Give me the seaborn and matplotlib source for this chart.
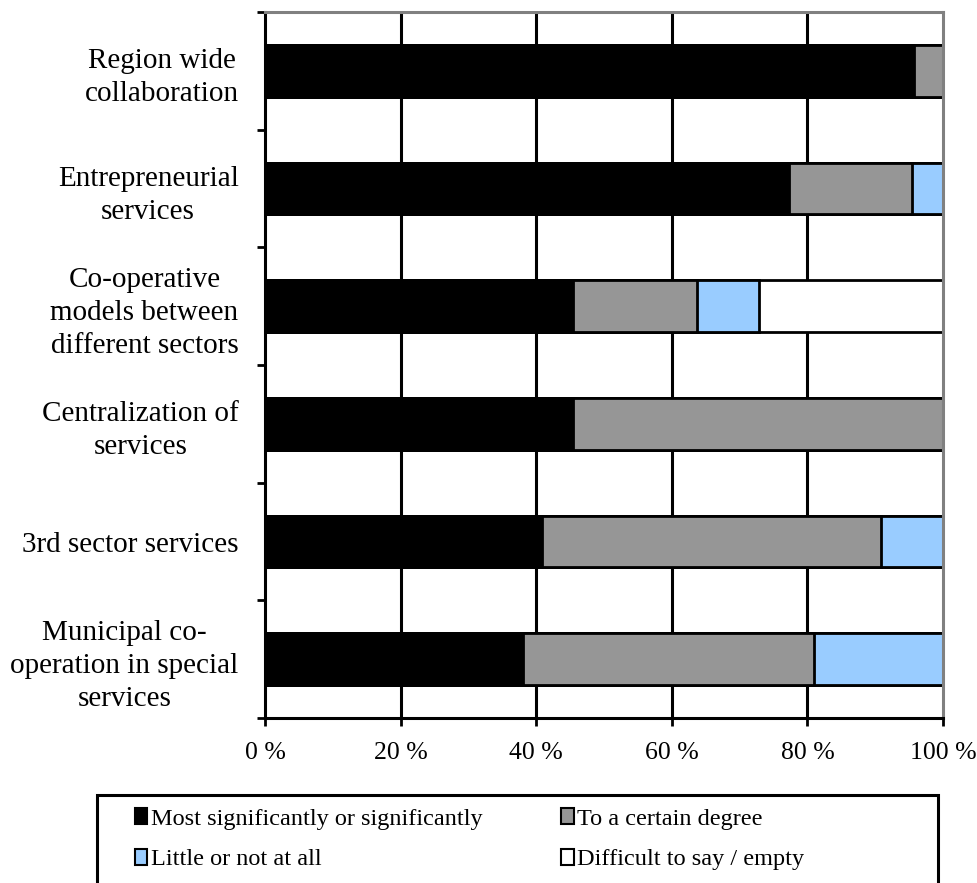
import numpy as np
import pandas as pd
import seaborn as sns
import matplotlib.pyplot as plt
from matplotlib.patches import Patch, Rectangle
from matplotlib.ticker import FixedLocator

categories = [
    "Region wide\ncollaboration",
    "Entrepreneurial\nservices",
    "Co-operative\nmodels between\ndifferent sectors",
    "Centralization of\nservices",
    "3rd sector services",
    "Municipal co-\noperation in special\nservices",
]
most = [95.7, 77.3, 45.5, 45.5, 40.9, 38.1]
certain = [4.3, 18.2, 18.2, 54.5, 50.0, 42.9]
little = [0.0, 4.5, 9.1, 0.0, 9.1, 19.0]
difficult = [0.0, 0.0, 27.3, 0.0, 0.0, 0.0]

series_names = ["Most significantly or significantly", "To a certain degree",
                "Little or not at all", "Difficult to say / empty"]
colors = ["#000000", "#969696", "#99ccff", "#ffffff"]
xtick_vals = [0, 20, 40, 60, 80, 100]
xtick_labels = ["0 %", "20 %", "40 %", "60 %", "80 %", "100 %"]

sns.set_style("white")
plt.rcParams['font.family'] = ['Liberation Serif', 'DejaVu Serif']
plt.rcParams['text.color'] = 'black'
plt.rcParams['xtick.color'] = 'black'
plt.rcParams['ytick.color'] = 'black'

df = pd.DataFrame({"category": categories, "most": most, "certain": certain,
                   "little": little, "difficult": difficult})
# cumulative totals for stacking
cols = ["most", "certain", "little", "difficult"]
cum = df[cols].cumsum(axis=1)

fig = plt.figure(figsize=(9.77, 8.83), dpi=100)
W, H = 977, 883
ax = fig.add_axes([265 / W, 1 - 718 / H, (943 - 265) / W, (718 - 12) / H])

# draw from the widest cumulative down so the stacks show
for col, c in zip(cols[::-1], colors[::-1]):
    sns.barplot(x=cum[col], y=df["category"], color=c, orient="h", width=0.44,
                edgecolor="black", linewidth=2, saturation=1, ax=ax)

ax.set_xlim(0, 100)
ax.set_ylim(5.5, -0.5)
ax.set_xlabel("")
ax.set_ylabel("")
ax.set_xticks(xtick_vals)
ax.set_xticklabels(xtick_labels, fontsize=18.5)
ax.tick_params(axis="x", length=6, width=2, pad=11, direction="out", bottom=True)
ax.tick_params(axis="y", which="major", length=0, pad=19, labelsize=21)
for t in ax.get_yticklabels():
    t.set_multialignment("center")
    t.set_linespacing(1.36)
ax.yaxis.set_minor_locator(FixedLocator(np.arange(-0.5, 6, 1)))
ax.tick_params(axis="y", which="minor", length=6, width=2, direction="out", left=True)

for v in xtick_vals[1:-1]:
    ax.axvline(v, color="black", linewidth=2.2, zorder=0)

for side in ["left", "bottom"]:
    ax.spines[side].set_color("black")
    ax.spines[side].set_linewidth(2.2)
for side in ["top", "right"]:
    ax.spines[side].set_color("#808080")
    ax.spines[side].set_linewidth(2.2)

# legend frame runs off the bottom edge in the original
fig.patches.append(Rectangle((97 / W, -0.02), (938 - 97) / W, 0.02 + 1 - 795 / H,
                             transform=fig.transFigure, fill=False,
                             edgecolor="black", linewidth=2.2))

handles = [Patch(facecolor=c, edgecolor="black", linewidth=1.5) for c in colors]
order = [0, 2, 1, 3]  # legend fills column-wise
leg = fig.legend([handles[i] for i in order], [series_names[i] for i in order],
                 loc="upper left", ncol=2, bbox_to_anchor=(135 / W, 1 - 808 / H),
                 fontsize=17.5, frameon=False, borderpad=0, borderaxespad=0,
                 handlelength=0.5, handleheight=0.65, handletextpad=0.15,
                 labelspacing=0.78, columnspacing=3.25)

fig.savefig("out.png", dpi=100)
